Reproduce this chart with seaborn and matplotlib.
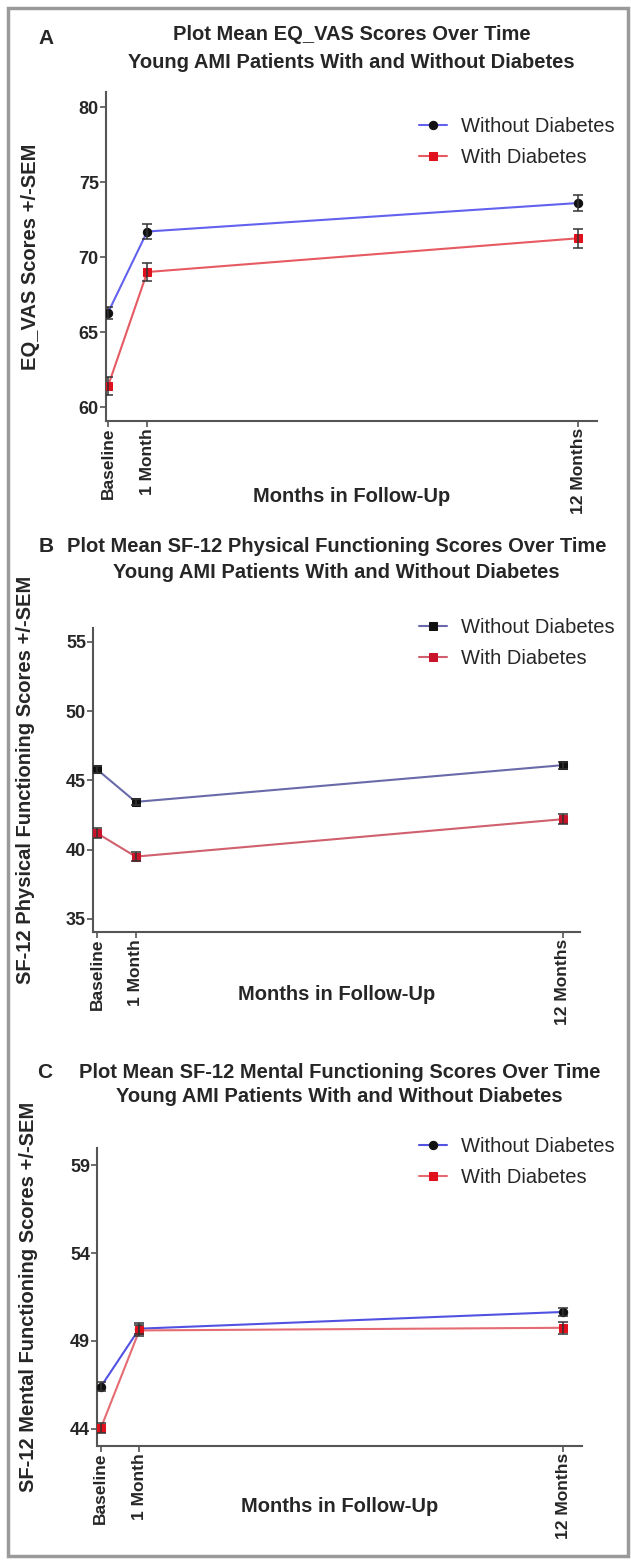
import matplotlib
matplotlib.use('Agg')
import matplotlib.pyplot as plt
import pandas as pd
import seaborn as sns
from matplotlib.patches import Rectangle

# time points and labels
months = [0, 1, 12]
tick_labels = ['Baseline', '1 Month', '12 Months']
groups = ['Without Diabetes', 'With Diabetes']

# panel A: EQ_VAS
eq_without = [66.3, 71.7, 73.6]
eq_without_sem = [0.4, 0.5, 0.55]
eq_with = [61.4, 69.0, 71.25]
eq_with_sem = [0.6, 0.6, 0.65]

# panel B: SF-12 physical
pf_without = [45.8, 43.45, 46.1]
pf_without_sem = [0.25, 0.2, 0.25]
pf_with = [41.2, 39.5, 42.2]
pf_with_sem = [0.35, 0.3, 0.35]

# panel C: SF-12 mental
mf_without = [46.4, 49.7, 50.65]
mf_without_sem = [0.25, 0.3, 0.25]
mf_with = [44.05, 49.6, 49.75]
mf_with_sem = [0.3, 0.3, 0.35]

W, H = 631, 1560

sns.set_theme(style='white')
plt.rcParams['font.family'] = ['Liberation Sans', 'DejaVu Sans']


def make_df(without, without_sem, with_, with_sem):
    rows = []
    for g, vals, sems in [(groups[0], without, without_sem), (groups[1], with_, with_sem)]:
        for m, v, s in zip(months, vals, sems):
            rows.append({'month': m, 'score': v, 'sem': s, 'group': g})
    return pd.DataFrame(rows)


panels = [
    dict(letter='A',
         title=['Plot Mean EQ_VAS Scores Over Time',
                'Young AMI Patients With and Without Diabetes'],
         ylabel='EQ_VAS Scores +/-SEM',
         df=make_df(eq_without, eq_without_sem, eq_with, eq_with_sem),
         box=(105.7, 597, 92, 421), xlim=(-0.06, 12.48), ylim=(59.07, 81.0),
         yticks=[60, 65, 70, 75, 80],
         lines={groups[0]: '#6262ee', groups[1]: '#e65a62'},
         mcol={groups[0]: '#111111', groups[1]: '#e0101c'},
         marks={groups[0]: 'o', groups[1]: 's'},
         title_y=(35, 62), letter_xy=(46, 38), ylab_x=40, xlab_y=497, leg_y=127),
    dict(letter='B',
         title=['Plot Mean SF-12 Physical Functioning Scores Over Time',
                'Young AMI Patients With and Without Diabetes'],
         ylabel='SF-12 Physical Functioning Scores +/-SEM',
         df=make_df(pf_without, pf_without_sem, pf_with, pf_with_sem),
         box=(93, 580, 628, 932), xlim=(-0.1, 12.45), ylim=(34.06, 56.0),
         yticks=[35, 40, 45, 50, 55],
         lines={groups[0]: '#6a6aaa', groups[1]: '#d0606e'},
         mcol={groups[0]: '#111111', groups[1]: '#c8142a'},
         marks={groups[0]: 's', groups[1]: 's'},
         title_y=(547, 573), letter_xy=(46, 547), ylab_x=35, xlab_y=995, leg_y=628),
    dict(letter='C',
         title=['Plot Mean SF-12 Mental Functioning Scores Over Time',
                'Young AMI Patients With and Without Diabetes'],
         ylabel='SF-12 Mental Functioning Scores +/-SEM',
         df=make_df(mf_without, mf_without_sem, mf_with, mf_with_sem),
         box=(97, 582, 1148, 1446), xlim=(-0.1, 12.49), ylim=(43.03, 59.97),
         yticks=[44, 49, 54, 59],
         lines={groups[0]: '#5252e2', groups[1]: '#e46c72'},
         mcol={groups[0]: '#111111', groups[1]: '#e0101c'},
         marks={groups[0]: 'o', groups[1]: 's'},
         title_y=(1073, 1097), letter_xy=(45, 1073), ylab_x=38, xlab_y=1507, leg_y=1147),
]

fig = plt.figure(figsize=(W / 100, H / 100), dpi=100)

for p in panels:
    x0, x1, y0, y1 = p['box']
    ax = fig.add_axes([x0 / W, 1 - y1 / H, (x1 - x0) / W, (y1 - y0) / H])
    df = p['df']

    sns.lineplot(data=df, x='month', y='score', hue='group', hue_order=groups,
                 style='group', style_order=groups, markers=p['marks'], dashes=False,
                 palette=p['lines'], linewidth=1.5, markersize=6, legend=False, ax=ax)

    for line, g in zip(ax.lines[:2], groups):
        line.set_markerfacecolor(p['mcol'][g])
        line.set_markeredgecolor(p['mcol'][g])
        line.set_zorder(3)
    handles = list(ax.lines[:2])

    for g in groups:
        sub = df[df['group'] == g]
        ax.errorbar(sub['month'], sub['score'], yerr=sub['sem'], fmt='none',
                    ecolor='#333333', elinewidth=1.1, capsize=3.5, capthick=1.1, zorder=4)

    ax.set_xlim(*p['xlim'])
    ax.set_ylim(*p['ylim'])
    ax.set_xticks(months)
    ax.set_xticklabels(tick_labels, rotation=90, fontweight='bold', fontsize=12.5)
    ax.set_yticks(p['yticks'])
    ax.set_yticklabels([str(t) for t in p['yticks']], fontweight='bold', fontsize=13)
    ax.tick_params(axis='both', direction='out', length=4, width=1.2, color='#555555',
                   pad=1, bottom=True, left=True)
    for side in ['top', 'right']:
        ax.spines[side].set_visible(False)
    for side in ['left', 'bottom']:
        ax.spines[side].set_color('#555555')
        ax.spines[side].set_linewidth(1.5)

    ax.set_xlabel('')
    ax.set_ylabel(p['ylabel'], fontweight='bold', fontsize=14.5)
    ax.yaxis.set_label_coords(p['ylab_x'] / W, 1 - (y0 + y1) / 2 / H, transform=fig.transFigure)

    cx = (x0 + x1) / 2
    fig.text(cx / W, 1 - p['xlab_y'] / H, 'Months in Follow-Up', ha='center', va='center',
             fontweight='bold', fontsize=14.5)
    for t, ty in zip(p['title'], p['title_y']):
        fig.text(cx / W, 1 - ty / H, t, ha='center', va='center', fontweight='bold', fontsize=14.5)
    fig.text(p['letter_xy'][0] / W, 1 - p['letter_xy'][1] / H, p['letter'], ha='center',
             va='center', fontweight='bold', fontsize=15)

    ax.legend(handles=handles, labels=groups, loc='center left',
              bbox_to_anchor=(409 / W, 1 - (p['leg_y'] + 15) / H), bbox_transform=fig.transFigure,
              frameon=False, fontsize=14.5, handlelength=1.4, handletextpad=0.7, labelspacing=0.6,
              borderpad=0)

# outer frame
fig.patches.append(Rectangle((8 / W, 4 / H), 620 / W, 1 - 12 / H, transform=fig.transFigure,
                             fill=False, edgecolor='#9a9a9a', linewidth=2.5))

fig.savefig('out.png', dpi=100)
